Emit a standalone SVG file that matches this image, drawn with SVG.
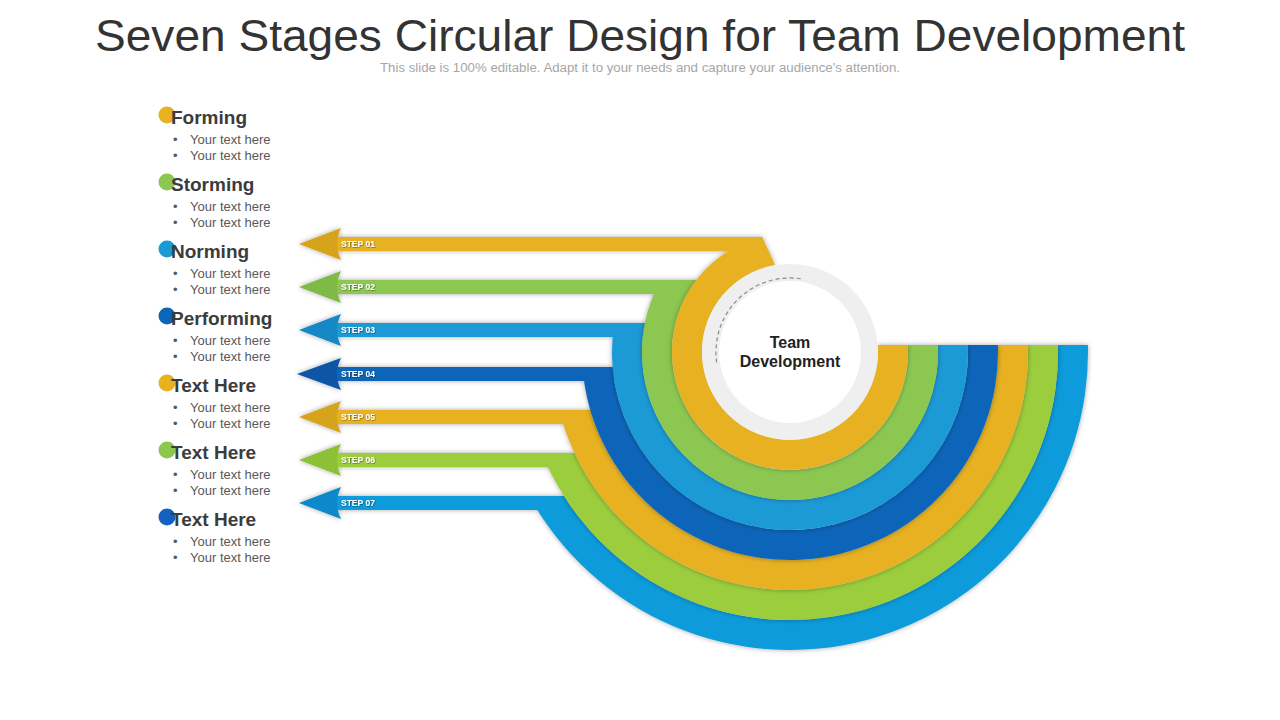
<svg xmlns="http://www.w3.org/2000/svg" width="1280" height="720" viewBox="0 0 1280 720">
<defs>
<filter id="sh" x="-20%" y="-20%" width="140%" height="140%">
<feDropShadow dx="0" dy="0" stdDeviation="2.5" flood-color="#000" flood-opacity="0.35"/>
</filter>
<filter id="ts" x="-10%" y="-30%" width="120%" height="160%">
<feDropShadow dx="0.6" dy="0.6" stdDeviation="0.3" flood-color="#000" flood-opacity="0.5"/>
</filter>
</defs>
<style>
.title{font-family:"Liberation Sans",Arial,sans-serif;font-size:44px;fill:#333;text-anchor:middle}
.sub{font-family:"Liberation Sans",Arial,sans-serif;font-size:12px;fill:#a6a6a6;text-anchor:middle}
.h{font-family:"Liberation Sans",Arial,sans-serif;font-size:19px;font-weight:bold;fill:#3c3c3c}
.b{font-family:"Liberation Sans",Arial,sans-serif;font-size:13px;fill:#595959}
.st{font-family:"Liberation Sans",Arial,sans-serif;font-size:8.5px;font-weight:bold;fill:#fff}
.ct{font-family:"Liberation Sans",Arial,sans-serif;font-size:16px;font-weight:bold;fill:#222;text-anchor:middle}
.y{fill:#E7B120}.g{fill:#8CC751}.lb{fill:#1A9AD6}.db{fill:#0C65B9}.g2{fill:#9BCD3D}.b7{fill:#0D9BDB}
.yh{fill:#D6A31A}.gh{fill:#7FBA46}.lbh{fill:#1288C5}.dbh{fill:#0A55A6}.g2h{fill:#8CC036}.b7h{fill:#0B88C8}
</style>
<rect width="1280" height="720" fill="#fff"/>
<text class="title" x="640" y="51" textLength="1090" lengthAdjust="spacingAndGlyphs">Seven Stages Circular Design for Team Development</text>
<text class="sub" x="640" y="72" textLength="520" lengthAdjust="spacingAndGlyphs">This slide is 100% editable. Adapt it to your needs and capture your audience's attention.</text>

<g id="list">
<g id="item-1"><circle cx="167" cy="115" r="8.5" class="y"/><text class="h" x="171" y="124">Forming</text><text class="b" x="173" y="144">•</text><text class="b" x="190" y="144">Your text here</text><text class="b" x="173" y="160">•</text><text class="b" x="190" y="160">Your text here</text></g>
<g id="item-2"><circle cx="167" cy="182" r="8.5" class="g"/><text class="h" x="171" y="191">Storming</text><text class="b" x="173" y="211">•</text><text class="b" x="190" y="211">Your text here</text><text class="b" x="173" y="227">•</text><text class="b" x="190" y="227">Your text here</text></g>
<g id="item-3"><circle cx="167" cy="249" r="8.5" class="lb"/><text class="h" x="171" y="258">Norming</text><text class="b" x="173" y="278">•</text><text class="b" x="190" y="278">Your text here</text><text class="b" x="173" y="294">•</text><text class="b" x="190" y="294">Your text here</text></g>
<g id="item-4"><circle cx="167" cy="316" r="8.5" class="db"/><text class="h" x="171" y="325">Performing</text><text class="b" x="173" y="345">•</text><text class="b" x="190" y="345">Your text here</text><text class="b" x="173" y="361">•</text><text class="b" x="190" y="361">Your text here</text></g>
<g id="item-5"><circle cx="167" cy="383" r="8.5" class="y"/><text class="h" x="171" y="392">Text Here</text><text class="b" x="173" y="412">•</text><text class="b" x="190" y="412">Your text here</text><text class="b" x="173" y="428">•</text><text class="b" x="190" y="428">Your text here</text></g>
<g id="item-6"><circle cx="167" cy="450" r="8.5" class="g"/><text class="h" x="171" y="459">Text Here</text><text class="b" x="173" y="479">•</text><text class="b" x="190" y="479">Your text here</text><text class="b" x="173" y="495">•</text><text class="b" x="190" y="495">Your text here</text></g>
<g id="item-7"><circle cx="167" cy="517" r="8.5" fill="#1461C0"/><text class="h" x="171" y="526">Text Here</text><text class="b" x="173" y="546">•</text><text class="b" x="190" y="546">Your text here</text><text class="b" x="173" y="562">•</text><text class="b" x="190" y="562">Your text here</text></g>
</g>

<g id="connectors">
<g id="stage-7" filter="url(#sh)">
<rect x="336" y="496" width="230" height="14" class="b7"/>
<path d="M1087.92,345 A298,298 0 0 1 529.1,496 L563.97,496 A268,268 0 0 0 1057.91,345 Z" class="b7"/>
<path d="M299,503 L341,487 Q333,503 341,519 Z" class="b7h"/>
</g>
<g id="stage-6" filter="url(#sh)">
<rect x="336" y="453" width="240" height="14" class="g2"/>
<path d="M1057.91,345 A268,268 0 0 1 541.76,453 L574.49,453 A238,238 0 0 0 1027.90,345 Z" class="g2"/>
<path d="M299,460 L341,444 Q333,460 341,476 Z" class="g2h"/>
</g>
<g id="stage-5" filter="url(#sh)">
<rect x="336" y="410" width="256" height="14" class="y"/>
<path d="M1027.90,345 A238,238 0 0 1 559.18,410 L590.25,410 A208,208 0 0 0 997.88,345 Z" class="y"/>
<path d="M299,417 L341,401 Q333,417 341,433 Z" class="yh"/>
</g>
<g id="stage-4" filter="url(#sh)">
<rect x="336" y="367" width="278" height="14" class="db"/>
<path d="M997.88,345 A208,208 0 0 1 582.54,367 L612.63,367 A178,178 0 0 0 967.86,345 Z" class="db"/>
<path d="M297,374 L341,358 Q333,374 341,390 Z" class="dbh"/>
</g>
<g id="stage-3" filter="url(#sh)">
<rect x="336" y="323" width="310" height="14" class="lb"/>
<path d="M967.86,345 A178,178 0 1 1 614.38,323 L644.87,323 A148,148 0 1 0 937.83,345 Z" class="lb"/>
<path d="M299,330 L341,314 Q333,330 341,346 Z" class="lbh"/>
</g>
<g id="stage-2" filter="url(#sh)">
<rect x="336" y="280" width="360" height="14" class="g"/>
<path d="M937.83,345 A148,148 0 1 1 660.69,280 L696.51,280 A118,118 0 1 0 907.79,345 Z" class="g"/>
<path d="M299,287 L341,271 Q333,287 341,303 Z" class="gh"/>
</g>
<g id="stage-1" filter="url(#sh)">
<path d="M336,237 L762,237 L775,265 L760,251 L336,251 Z" class="y"/>
<path d="M907.79,345 A118,118 0 1 1 762,237 L775,265 A88,88 0 1 0 877.72,345 Z" class="y"/>
<path d="M299,244 L341,228 Q333,244 341,260 Z" class="yh"/>
</g>
<g id="labels" filter="url(#ts)">
<text class="st" x="341" y="247">STEP  01</text>
<text class="st" x="341" y="290">STEP  02</text>
<text class="st" x="341" y="333">STEP  03</text>
<text class="st" x="341" y="377">STEP  04</text>
<text class="st" x="341" y="420">STEP  05</text>
<text class="st" x="341" y="463">STEP  06</text>
<text class="st" x="341" y="506">STEP  07</text>
</g>
</g>

<g id="center">
<circle cx="790" cy="352" r="88" fill="#EFEFEF"/>
<circle cx="790" cy="352" r="71" fill="#fff"/>
<path d="M716.7,362.3 A74,74 0 0 1 803,279.1" fill="none" stroke="#8a8a8a" stroke-width="1.2" stroke-dasharray="4 3"/>
<text class="ct" x="790" y="348">Team</text>
<text class="ct" x="790" y="367">Development</text>
</g>
</svg>
